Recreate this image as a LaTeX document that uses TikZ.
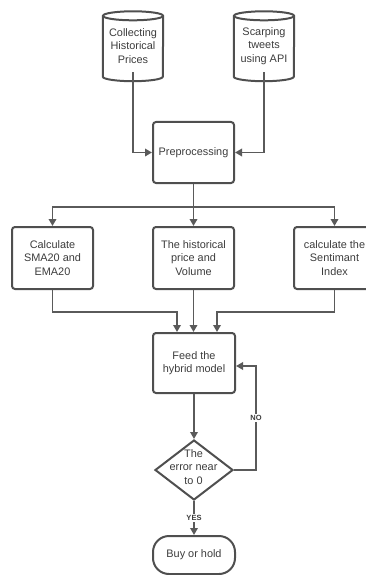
\documentclass[tikz,border=0pt]{standalone}
\usepackage{fontspec}
\setmainfont{Liberation Sans}
\usetikzlibrary{arrows.meta,shapes.geometric}
\definecolor{edge}{HTML}{4F4F4F}
\definecolor{wire}{HTML}{5A5A5A}
\definecolor{ink}{HTML}{3C3C3C}
\begin{document}
\begin{tikzpicture}[x=1pt,y=-1pt,
  txt/.style={font=\fontsize{10.9}{13.4}\selectfont, text=ink, align=center, inner sep=0pt},
  stepbox/.style={txt, draw=edge, line width=2pt, rounded corners=3pt, minimum width=81pt, minimum height=61pt},
  store/.style={txt, minimum width=60pt, minimum height=52pt},
  shapeline/.style={draw=edge, line width=2pt},
  arr/.style={draw=wire, line width=1.8pt, -{Triangle[length=7pt,width=7.5pt]}},
  wireline/.style={draw=wire, line width=1.8pt},
  tag/.style={font=\bfseries\fontsize{7.5}{9}\selectfont, text=ink, fill=white, inner sep=1.5pt}]
\useasboundingbox (0,0) rectangle (366,575);
\clip (0,0) rectangle (366,575);

% data sources (cylinders)
\node[store] (c1) at (133,46) {Collecting\\Historical\\Prices};
\node[store] (c2) at (264,46) {Scarping\\tweets\\using API};
\foreach \n in {c1,c2}{
  \draw[shapeline] ([yshift=4pt]\n.north) ellipse[x radius=30pt, y radius=4.5pt];
  \draw[shapeline] ([yshift=4pt]\n.north west) -- ([yshift=-4.5pt]\n.south west)
    arc[start angle=180, end angle=360, x radius=30pt, y radius=4.5pt]
    -- ([yshift=4pt]\n.north east);
}

% processing steps
\node[stepbox] (pre) at (193.5,152.5) {Preprocessing};
\node[stepbox, minimum height=62pt] (b1) at (52.5,258) {Calculate\\SMA20 and\\EMA20};
\node[stepbox, minimum height=62pt] (b2) at (193.5,258) {The historical\\price and\\Volume};
\node[stepbox, minimum height=62pt] (b3) at (334.5,258) {calculate the\\Sentimant\\Index};
\node[stepbox, minimum width=82pt, minimum height=60pt] (feed) at (194,363) {Feed the\\hybrid model};

% decision
\node[diamond, shapeline, minimum width=78pt, minimum height=60pt, inner sep=0pt] (dia) at (194,470) {};
\node[txt] (diatxt) at (193.5,467) {The\\error near\\to 0};

% terminal
\node[txt, draw=edge, line width=2pt, rounded corners=16pt, minimum width=82pt, minimum height=38pt] (buy) at (194,555) {Buy or hold};

% connectors
\coordinate (split) at (193.5,207);
\coordinate (j1) at (177,312);
\coordinate (j3) at (217,312);
\coordinate (back) at (256,470);

\draw[arr] (c1.south) |- (pre.west);
\draw[arr] (c2.south) |- (pre.east);
\draw[wireline] (pre.south) -- (split);
\draw[arr] (split) -| (b1.north);
\draw[arr] (split) -- (b2.north);
\draw[arr] (split) -| (b3.north);

\draw[arr] (b1.south) |- (j1) -- (j1 |- feed.north);
\draw[arr] (b2.south) -- (b2.south |- feed.north);
\draw[arr] (b3.south) |- (j3) -- (j3 |- feed.north);

\draw[arr] (feed.south) -- (dia.north);
\draw[arr] (dia.east) -- (back) |- ([yshift=-3pt]feed.east) node[tag, pos=0.25] {NO};
\draw[arr] (dia.south) -- (buy.north) node[tag, midway] {YES};
\end{tikzpicture}
\end{document}
